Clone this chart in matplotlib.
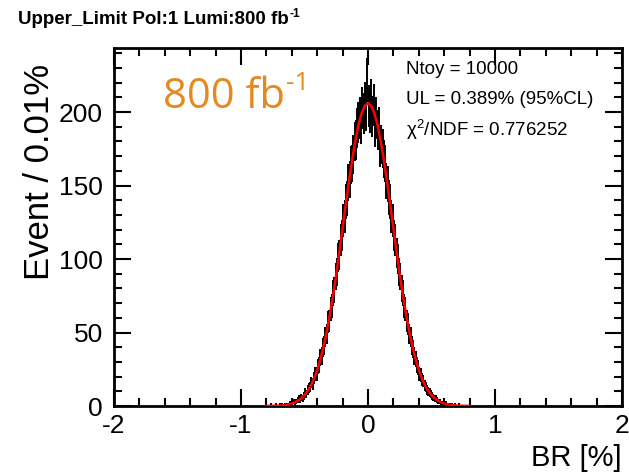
import numpy as np
import matplotlib
matplotlib.use("Agg")
import matplotlib.pyplot as plt
from matplotlib.ticker import MultipleLocator

plt.rcParams['font.family'] = ['Liberation Sans', 'DejaVu Sans']
plt.rcParams['axes.unicode_minus'] = False

# ---- data ----
bin_width = 0.01
bin_centers = np.round(np.arange(-0.795, 0.8, 0.01), 3)  # 160 bins
counts_neg = [0, 0, 0, 1, 0, 0, 0, 1, 0, 0, 1, 0, 1, 0, 1, 1, 1, 1, 2, 1,
              2, 3, 2, 3, 4, 5, 4, 6, 5, 7, 9, 8, 11, 12, 13, 16, 15, 19, 22, 22,
              27, 28, 33, 34, 40, 41, 47, 49, 57, 58, 66, 68, 77, 79, 88, 91, 101, 103, 113, 116,
              126, 129, 139, 141, 152, 154, 164, 165, 171, 180, 181, 189, 193, 196, 192, 203, 199, 206, 201, 222]
counts_pos = [204, 200, 208, 197, 205, 190, 196, 188, 190, 176, 178, 175, 168, 165, 153, 151, 142, 139, 129, 126,
              116, 113, 104, 100, 91, 88, 80, 77, 68, 66, 58, 56, 49, 47, 41, 39, 34, 32, 28, 26,
              22, 21, 18, 17, 14, 13, 11, 10, 9, 8, 7, 6, 5, 5, 4, 3, 3, 2, 2, 2,
              1, 2, 1, 1, 1, 0, 1, 0, 1, 0, 0, 1, 0, 0, 0, 0, 0, 0, 0, 0]
counts = counts_neg + counts_pos

fit_x = [-0.8, -0.775, -0.75, -0.725, -0.7, -0.675, -0.65, -0.625, -0.6, -0.575, -0.55, -0.525,
         -0.5, -0.475, -0.45, -0.425, -0.4, -0.375, -0.35, -0.325, -0.3, -0.275, -0.25, -0.225,
         -0.2, -0.175, -0.15, -0.125, -0.1, -0.075, -0.05, -0.025, 0.0,
         0.025, 0.05, 0.075, 0.1, 0.125, 0.15, 0.175, 0.2, 0.225, 0.25, 0.275, 0.3, 0.325,
         0.35, 0.375, 0.4, 0.425, 0.45, 0.475, 0.5, 0.525, 0.55, 0.575, 0.6, 0.625, 0.65,
         0.675, 0.7, 0.725, 0.75, 0.775, 0.8]
fit_y = [0.04, 0.07, 0.12, 0.19, 0.31, 0.48, 0.75, 1.14, 1.7, 2.5, 3.7, 5.3,
         7.4, 10.3, 13.9, 18.7, 24.5, 31.8, 40.4, 50.6, 62.4, 75.2, 89.4, 105.1,
         121.1, 137.2, 152.6, 167.4, 180.3, 191.2, 199.3, 204.3, 206.0,
         204.3, 199.3, 191.2, 180.3, 167.4, 152.6, 137.2, 121.1, 105.1, 89.4, 75.2, 62.4, 50.6,
         40.4, 31.8, 24.5, 18.7, 13.9, 10.3, 7.4, 5.3, 3.7, 2.5, 1.7, 1.14, 0.75,
         0.48, 0.31, 0.19, 0.12, 0.07, 0.04]

title_main, title_sup = "Upper_Limit Pol:1 Lumi:800 fb", "-1"
lumi_main, lumi_sup = "800 fb", "-1"
stats_lines = ["Ntoy = 10000", "UL = 0.389% (95%CL)", "\u03c7$\\mathregular{^{2}}$/NDF = 0.776252"]
x_ticks = [-2, -1, 0, 1, 2]
y_ticks = [0, 50, 100, 150, 200]

W, H = 629, 472
fig = plt.figure(figsize=(W / 100, H / 100), dpi=100)
ax = fig.add_axes([114 / W, 1 - 406 / H, (622 - 114) / W, (406 - 48) / H])

cnt = np.array(counts, dtype=float)
mask = cnt > 0
ax.errorbar(bin_centers[mask], cnt[mask], xerr=bin_width / 2, yerr=np.sqrt(cnt[mask]),
            fmt='none', ecolor='black', elinewidth=1.4, capsize=0, zorder=2)
ax.plot(fit_x, fit_y, color='#ff0000', lw=1.8, zorder=3)

ax.set_xlim(-2, 2)
ax.set_ylim(0, 243.6)
ax.set_xticks(x_ticks)
ax.set_xticklabels([str(v) for v in x_ticks])
ax.set_yticks(y_ticks)
ax.set_yticklabels([str(v) for v in y_ticks])
ax.xaxis.set_minor_locator(MultipleLocator(0.2))
ax.yaxis.set_minor_locator(MultipleLocator(10))
ax.tick_params(which='both', direction='in', top=True, right=True, width=1.5, colors='black')
ax.tick_params(which='major', length=12, labelsize=19)
ax.tick_params(axis='x', which='major', pad=6)
ax.tick_params(axis='y', which='major', pad=8)
ax.tick_params(which='minor', length=6)
for s in ax.spines.values():
    s.set_linewidth(2)

fig.canvas.draw()
renderer = fig.canvas.get_renderer()


def text_with_sup(x_px, y_px, main, sup, size, sup_size, rise, **kw):
    t = fig.text(x_px / W, 1 - y_px / H, main, fontsize=size, ha='left', va='baseline', **kw)
    bb = t.get_window_extent(renderer)
    fig.text(bb.x1 / W + 1 / W, 1 - (y_px - rise) / H, sup, fontsize=sup_size,
             ha='left', va='baseline', **kw)


text_with_sup(18, 24, title_main, title_sup, 13.5, 8.5, 7, fontweight='bold')
text_with_sup(163, 108, lumi_main, lumi_sup, 30, 19, 18, color='#E5891E', family='Open Sans')

fig.text(40 / W, 1 - 172 / H, "Event / 0.01%", fontsize=25, rotation=90, ha='center', va='center')
fig.text(622 / W, 1 - 466 / H, "BR [%]", fontsize=21, ha='right', va='baseline')
for i, line in enumerate(stats_lines):
    fig.text(406 / W, 1 - (70 + 30 * i) / H, line, fontsize=13.5, ha='left', va='center')

fig.savefig("out.png", dpi=100)
